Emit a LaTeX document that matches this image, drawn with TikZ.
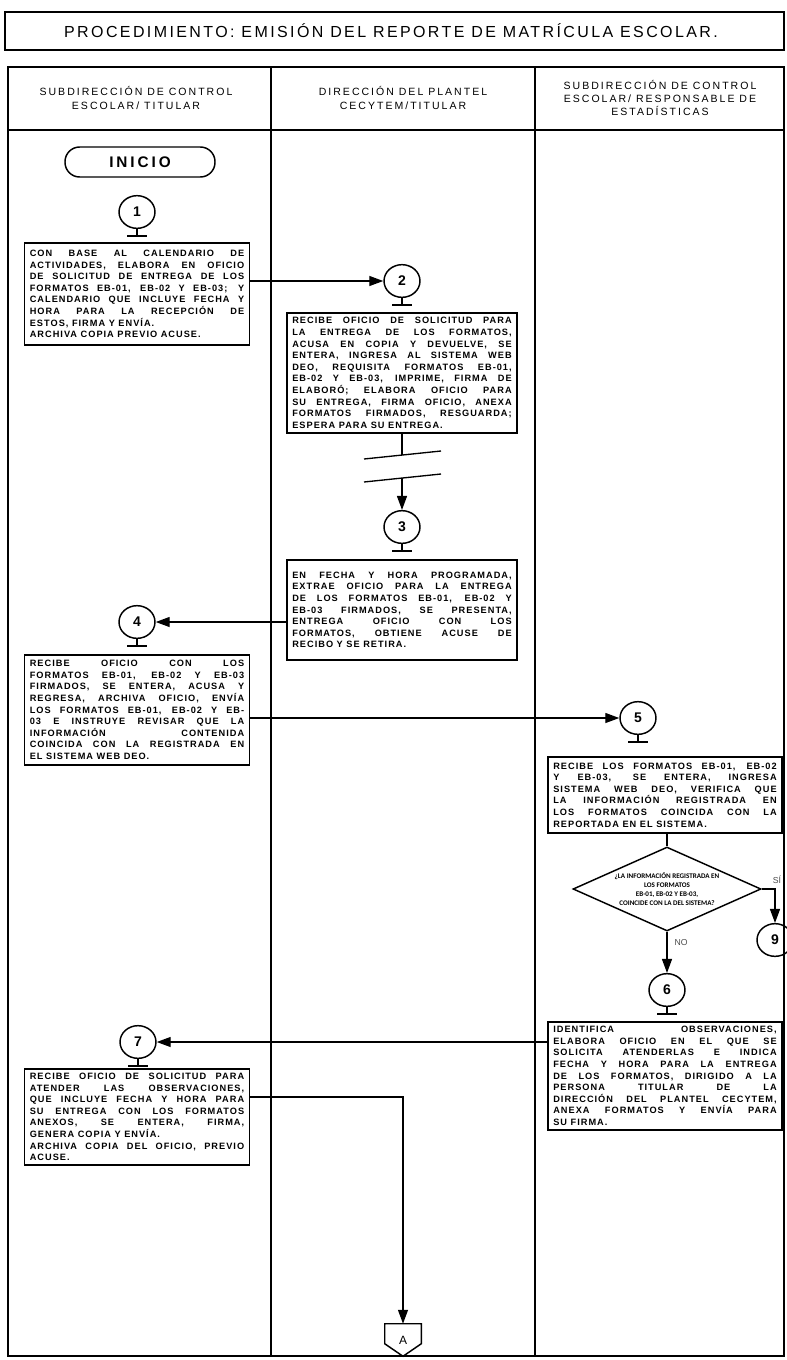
\documentclass[tikz,border=0pt]{standalone}
\usepackage{fontspec}
\setmainfont{Liberation Sans}
\newfontfamily\titlefont[LetterSpace=15]{Liberation Sans}
\newfontfamily\headfont[LetterSpace=19]{Liberation Sans}
\newfontfamily\boxfont[LetterSpace=11]{Liberation Sans}
\newfontfamily\decfont{Carlito}
\usetikzlibrary{arrows.meta,shapes.geometric,calc}
\newcommand\boxtext{\boxfont\bfseries\fontsize{6.9}{8.7}\selectfont\tolerance=10000\hbadness=10000\hyphenpenalty=10000\emergencystretch=20pt}
\tikzset{
  frame/.style={line width=1.5pt},
  procbox/.style={draw, line width=1.1pt, rectangle, inner xsep=4pt, inner ysep=3pt, align=justify, font=\boxtext},
  numcirc/.style={draw, ellipse, line width=1.1pt, minimum width=27pt, minimum height=24.5pt, inner sep=0pt, font=\bfseries\fontsize{10.5}{10.5}\selectfont},
  conn/.style={line width=1pt, -{Triangle[length=10.5pt,width=7.5pt]}},
  plain/.style={line width=1pt},
  lanehead/.style={align=center, font=\headfont\fontsize{7.9}{9.8}\selectfont},
  branchlbl/.style={font=\fontsize{6.5}{7}\selectfont, text=black!70},
}
\begin{document}
\begin{tikzpicture}[x=0.75pt,y=-0.75pt]
\useasboundingbox (0,0) rectangle (787,1360);
% title
\draw[frame] (5,12) rectangle (784,50);
\node[font=\titlefont\fontsize{12}{14}\selectfont] (title) at (391,31) {PROCEDIMIENTO: EMISIÓN DEL REPORTE DE MATRÍCULA ESCOLAR.};
% table
\draw[frame] (8,67) rectangle (784,1356);
\draw[frame] (8,130) -- (784,130);
\draw[frame] (271,67) -- (271,1356);
\draw[frame] (535,67) -- (535,1356);
\node[lanehead] (h1) at (136,98) {SUBDIRECCIÓN DE CONTROL\\ESCOLAR/ TITULAR};
\node[lanehead] (h2) at (403,98) {DIRECCIÓN DEL PLANTEL\\CECYTEM/TITULAR};
\node[lanehead] (h3) at (660,98) {SUBDIRECCIÓN DE CONTROL\\ESCOLAR/ RESPONSABLE DE\\ESTADÍSTICAS};
% start
\node[draw, line width=1.1pt, rounded corners=11pt, minimum width=112.5pt, minimum height=22.5pt, inner sep=0pt, font=\headfont\bfseries\fontsize{11.5}{11.5}\selectfont] (start) at (140,162) {INICIO};
% circles
\node[numcirc] (c1) at (137,212) {1};
\node[numcirc] (c2) at (402,281) {2};
\node[numcirc] (c3) at (402,527) {3};
\node[numcirc] (c4) at (137,622) {4};
\node[numcirc] (c5) at (638,718) {5};
\node[numcirc] (c6) at (667,990) {6};
\node[numcirc] (c7) at (138,1042) {7};
\node[numcirc] (c9) at (775,940) {9};
\foreach \c in {c1,c2,c3,c4,c5,c6,c7}{
  \draw[plain] (\c.south) -- ++(0,7) ++(-10,0) -- ++(20,0);
}
% boxes
\node[procbox, text width=160.75pt, minimum height=76.5pt] (box1) at (137,294) {CON BASE AL CALENDARIO DE\linebreak ACTIVIDADES, ELABORA EN OFICIO\linebreak DE SOLICITUD DE ENTREGA DE LOS\linebreak FORMATOS EB-01, EB-02 Y EB-03; Y\linebreak CALENDARIO QUE INCLUYE FECHA Y\linebreak HORA PARA LA RECEPCIÓN DE\linebreak ESTOS, FIRMA Y ENVÍA.\par ARCHIVA COPIA PREVIO ACUSE.};
\node[procbox, text width=164.5pt, minimum height=90pt] (box2) at (402,373) {RECIBE OFICIO DE SOLICITUD PARA\linebreak LA ENTREGA DE LOS FORMATOS,\linebreak ACUSA EN COPIA Y DEVUELVE, SE\linebreak ENTERA, INGRESA AL SISTEMA WEB\linebreak DEO, REQUISITA FORMATOS EB-01,\linebreak EB-02 Y EB-03, IMPRIME, FIRMA DE\linebreak ELABORÓ; ELABORA OFICIO PARA\linebreak SU ENTREGA, FIRMA OFICIO, ANEXA\linebreak FORMATOS FIRMADOS, RESGUARDA;\linebreak ESPERA PARA SU ENTREGA.};
\node[procbox, text width=164.5pt, minimum height=75pt] (box3) at (402,610) {EN FECHA Y HORA PROGRAMADA,\linebreak EXTRAE OFICIO PARA LA ENTREGA\linebreak DE LOS FORMATOS EB-01, EB-02 Y\linebreak EB-03 FIRMADOS, SE PRESENTA,\linebreak ENTREGA OFICIO CON LOS\linebreak FORMATOS, OBTIENE ACUSE DE\linebreak RECIBO Y SE RETIRA.};
\node[procbox, text width=160.75pt, minimum height=82.5pt] (box4) at (137,710) {RECIBE OFICIO CON LOS\linebreak FORMATOS EB-01, EB-02 Y EB-03\linebreak FIRMADOS, SE ENTERA, ACUSA Y\linebreak REGRESA, ARCHIVA OFICIO, ENVÍA\linebreak LOS FORMATOS EB-01, EB-02 Y EB-\linebreak 03 E INSTRUYE REVISAR QUE LA\linebreak INFORMACIÓN CONTENIDA\linebreak COINCIDA CON LA REGISTRADA EN\linebreak EL SISTEMA WEB DEO.};
\node[procbox, text width=167.5pt, minimum height=57pt] (box5) at (665,795) {RECIBE LOS FORMATOS EB-01, EB-02\linebreak Y EB-03, SE ENTERA, INGRESA\linebreak SISTEMA WEB DEO, VERIFICA QUE\linebreak LA INFORMACIÓN REGISTRADA EN\linebreak LOS FORMATOS COINCIDA CON LA\linebreak REPORTADA EN EL SISTEMA.};
\node[procbox, text width=167.5pt, minimum height=81pt] (box6) at (665,1076) {IDENTIFICA OBSERVACIONES,\linebreak ELABORA OFICIO EN EL QUE SE\linebreak SOLICITA ATENDERLAS E INDICA\linebreak FECHA Y HORA PARA LA ENTREGA\linebreak DE LOS FORMATOS, DIRIGIDO A LA\linebreak PERSONA TITULAR DE LA\linebreak DIRECCIÓN DEL PLANTEL CECYTEM,\linebreak ANEXA FORMATOS Y ENVÍA PARA\linebreak SU FIRMA.};
\node[procbox, text width=160.75pt, minimum height=64pt] (box7) at (137,1117) {RECIBE OFICIO DE SOLICITUD PARA\linebreak ATENDER LAS OBSERVACIONES,\linebreak QUE INCLUYE FECHA Y HORA PARA\linebreak SU ENTREGA CON LOS FORMATOS\linebreak ANEXOS, SE ENTERA, FIRMA,\linebreak GENERA COPIA Y ENVÍA.\par ARCHIVA COPIA DEL OFICIO, PREVIO\linebreak ACUSE.};
% decision
\node[draw, diamond, line width=1.1pt, aspect=2.24, inner sep=-4pt, minimum width=141pt, minimum height=63pt, align=center, font=\decfont\bfseries\fontsize{5.3}{6.8}\selectfont] (dec) at (667,889) {¿LA INFORMACIÓN REGISTRADA EN\\LOS FORMATOS\\EB-01, EB-02 Y EB-03,\\COINCIDE CON LA DEL SISTEMA?};
% off-page connector
\node[inner sep=0pt, minimum width=27pt, minimum height=24pt, font=\fontsize{9}{9}\selectfont] (A) at (403,1340) {A};
\draw[line width=1.1pt] (A.north west) -- (A.north east) -- ($(A.north east)+(0,20)$) -- (A.south) -- ($(A.north west)+(0,20)$) -- cycle;
% connectors
\draw[conn] (box1.east |- c2.west) -- (c2.west);
\coordinate (brk1) at (402,455);
\coordinate (brk2) at (402,478);
\draw[plain] (box2.south) -- (brk1);
\draw[plain] (364,459) -- (441,451);
\draw[plain] (364,482) -- (441,474);
\draw[conn] (brk2) -- (c3.north);
\draw[conn] (box3.west |- c4.east) -- (c4.east);
\draw[conn] (box4.east |- c5.west) -- (c5.west);
\draw[plain] (dec.north |- box5.south) -- (dec.north);
\draw[conn] (dec.east) -| (c9.north);
\node[branchlbl] (si) at (777,880) {SÍ};
\draw[conn] (dec.south) -- (c6.north);
\node[branchlbl] (no) at (681,943) {NO};
\draw[conn] (box6.west |- c7.east) -- (c7.east);
\coordinate (turn) at (403,1097);
\draw[conn] (box7.east |- turn) -- (turn) -- (A.north);
\end{tikzpicture}
\end{document}
